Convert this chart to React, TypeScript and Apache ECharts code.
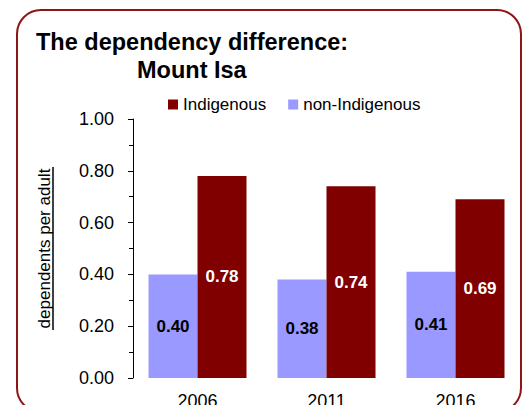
import React, { useEffect, useRef } from "react";
import * as echarts from "echarts";

const categories = ["2006", "2011", "2016"];
const nonIndigenous = [0.40, 0.38, 0.41];
const indigenous = [0.78, 0.74, 0.69];
const titleLine1 = "The dependency difference:";
const titleLine2 = "Mount Isa";
const yAxisName = "dependents per adult";

const FONT = "'Liberation Sans', Arial, sans-serif";

export default function App() {
  const ref = useRef<HTMLDivElement>(null);
  useEffect(() => {
    if (!ref.current) return;
    const chart = echarts.init(ref.current, undefined, { renderer: "svg" });
    chart.setOption({
      animation: false,
      backgroundColor: "#ffffff",
      textStyle: { fontFamily: FONT },
      graphic: [
        {
          type: "rect",
          shape: { x: 17, y: 10, width: 504, height: 402, r: 24 },
          style: { fill: "none", stroke: "#8c1515", lineWidth: 2 },
          z: 10,
        },
        {
          type: "text",
          x: 36,
          y: 41.5,
          style: {
            text: titleLine1,
            font: `bold 23.5px ${FONT}`,
            fill: "#000",
            verticalAlign: "middle",
          },
        },
        {
          type: "text",
          x: 137,
          y: 69.5,
          style: {
            text: titleLine2,
            font: `bold 23.5px ${FONT}`,
            fill: "#000",
            verticalAlign: "middle",
          },
        },
        {
          type: "line",
          shape: { x1: 53, y1: 167, x2: 53, y2: 330 },
          style: { stroke: "#000", lineWidth: 1.5 },
        },
      ],
      legend: {
        data: ["Indigenous", "non-Indigenous"],
        left: 163,
        top: 91,
        itemWidth: 10,
        itemHeight: 10,
        itemGap: 22,
        icon: "rect",
        textStyle: { fontSize: 17, color: "#000" },
      },
      grid: {
        left: 133,
        right: 11,
        top: 119,
        bottom: 27,
        containLabel: false,
        outerBoundsMode: "none",
      },
      xAxis: {
        type: "category",
        data: categories,
        axisLine: { show: false },
        axisTick: { show: false },
        axisLabel: { fontSize: 18, color: "#000", margin: 14 },
      },
      yAxis: {
        type: "value",
        min: 0,
        max: 1,
        interval: 0.2,
        name: yAxisName,
        nameLocation: "middle",
        nameRotate: 90,
        nameGap: 80,
        nameTextStyle: { fontSize: 17, color: "#000" },
        axisLine: { show: true, lineStyle: { color: "#000", width: 1 } },
        axisTick: { show: true, length: 5, lineStyle: { color: "#000" } },
        minorTick: { show: true, splitNumber: 2, length: 4, lineStyle: { color: "#000" } },
        splitLine: { show: false },
        axisLabel: {
          fontSize: 18,
          color: "#000",
          margin: 19,
          formatter: (v: number) => v.toFixed(2),
        },
      },
      series: [
        {
          name: "non-Indigenous",
          type: "bar",
          data: nonIndigenous,
          barWidth: 49,
          barGap: "0%",
          itemStyle: { color: "#9999ff" },
          label: {
            show: true,
            position: "inside",
            formatter: (p: any) => p.value.toFixed(2),
            fontSize: 17,
            fontWeight: "bold",
            color: "#000",
          },
        },
        {
          name: "Indigenous",
          type: "bar",
          data: indigenous,
          barWidth: 49,
          barGap: "0%",
          itemStyle: { color: "#800000" },
          label: {
            show: true,
            position: "inside",
            formatter: (p: any) => p.value.toFixed(2),
            fontSize: 17,
            fontWeight: "bold",
            color: "#fff",
          },
        },
      ],
    });
    return () => chart.dispose();
  }, []);
  return (
    <div
      ref={ref}
      style={{ position: "fixed", left: 0, top: 0, width: 531, height: 405 }}
    />
  );
}
